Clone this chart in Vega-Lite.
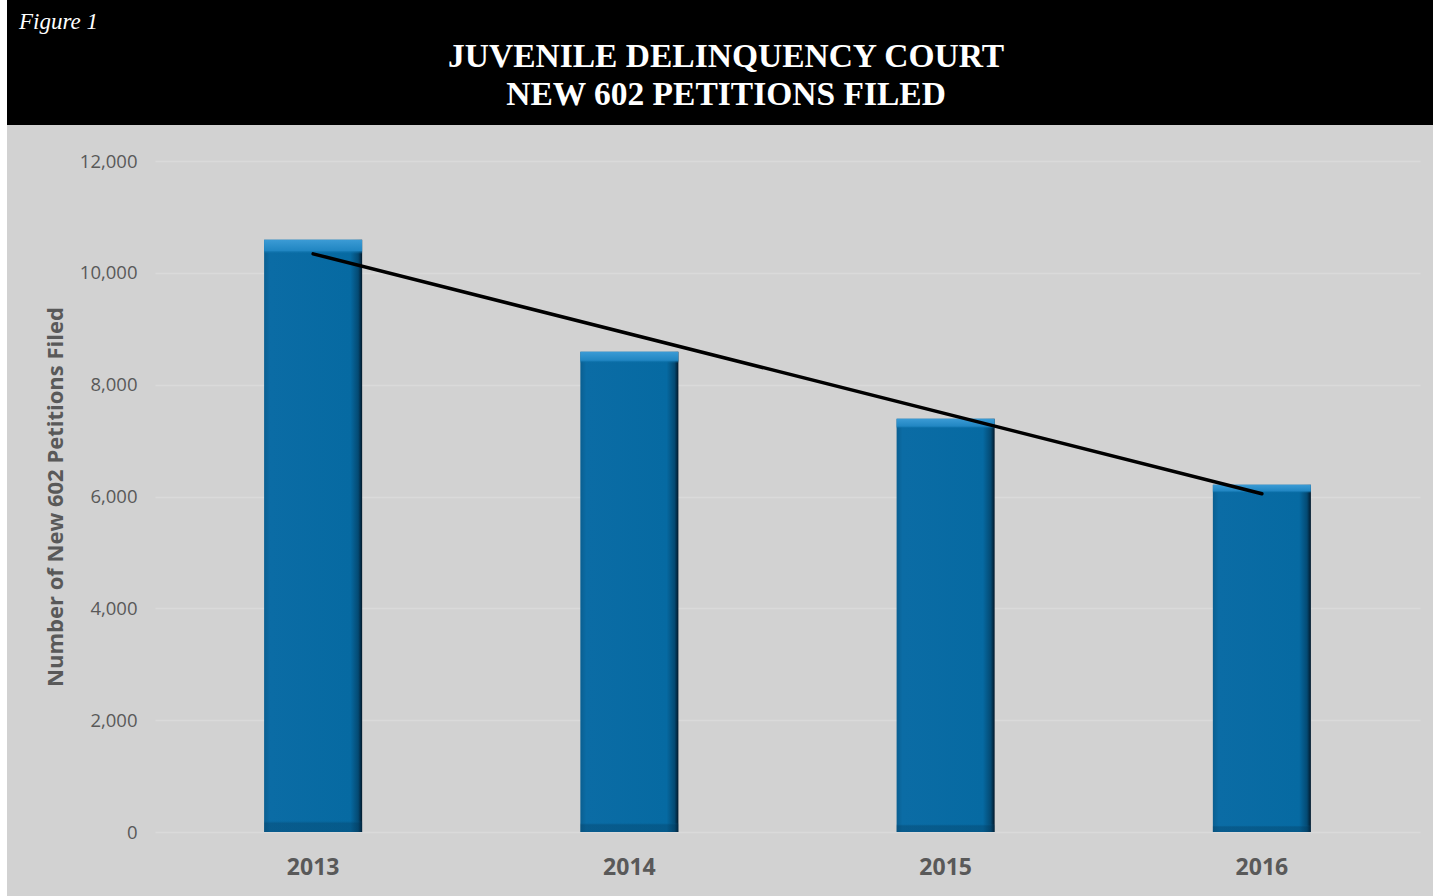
{
  "$schema": "https://vega.github.io/schema/vega-lite/v6.json",
  "background": "white",
  "padding": {"left": 7, "top": 0, "right": 0, "bottom": 0},
  "spacing": 0,
  "datasets": {
    "counts": [
      {"year": "2013", "petitions": 10590},
      {"year": "2014", "petitions": 8590},
      {"year": "2015", "petitions": 7390},
      {"year": "2016", "petitions": 6210}
    ],
    "trend": [
      {"year": "2013", "trend": 10340},
      {"year": "2016", "trend": 6050}
    ],
    "header": [
      {"title": "JUVENILE DELINQUENCY COURT\nNEW 602 PETITIONS FILED"}
    ]
  },
  "vconcat": [
    {
      "width": 1426,
      "height": 125,
      "view": {"fill": "black", "stroke": null},
      "title": {
        "text": "Figure 1",
        "anchor": "start",
        "frame": "group",
        "orient": "top",
        "offset": -52,
        "baseline": "alphabetic",
        "dx": 12,
        "font": "Liberation Serif",
        "fontStyle": "italic",
        "fontWeight": "normal",
        "fontSize": 23,
        "color": "white"
      },
      "data": {"name": "header"},
      "mark": {
        "type": "text",
        "lineBreak": "\n",
        "font": "Liberation Serif",
        "fontWeight": "bold",
        "fontSize": 33.5,
        "color": "white",
        "align": "center",
        "baseline": "alphabetic",
        "lineHeight": 38,
        "dy": 4,
        "dx": 6
      },
      "encoding": {"text": {"field": "title", "type": "nominal"}}
    },
    {
      "width": 1426,
      "height": 771,
      "view": {"fill": "#d2d2d2", "stroke": null},
      "layer": [
        {
          "data": {"name": "counts"},
          "mark": {
            "type": "bar",
            "fill": {
              "gradient": "linear",
              "x1": 0, "y1": 0, "x2": 1, "y2": 0,
              "stops": [
                {"offset": 0, "color": "#0a5f91"},
                {"offset": 0.06, "color": "#0b6ca5"},
                {"offset": 0.88, "color": "#066aa2"},
                {"offset": 0.96, "color": "#044a73"},
                {"offset": 1, "color": "#02182a"}
              ]
            }
          },
          "encoding": {
            "x": {
              "field": "year",
              "type": "ordinal",
              "scale": {"range": [148, 1413], "paddingInner": 0.69, "paddingOuter": 0.345},
              "axis": {
                "title": null,
                "offset": -64,
                "labelPadding": 24,
                "ticks": false,
                "domain": false,
                "grid": false,
                "labelAngle": 0,
                "labelFont": "Open Sans",
                "labelFontWeight": "bold",
                "labelFontSize": 23,
                "labelColor": "#595959"
              }
            },
            "y": {
              "field": "petitions",
              "type": "quantitative",
              "scale": {"domain": [0, 12000], "range": [707, 36], "nice": false},
              "axis": {
                "title": "Number of New 602 Petitions Filed",
                "values": [0, 2000, 4000, 6000, 8000, 10000, 12000],
                "format": ",d",
                "offset": -130,
                "labelPadding": 0,
                "ticks": false,
                "tickSize": 0,
                "domain": false,
                "grid": true,
                "gridColor": "#dadada",
                "gridWidth": 1.5,
                "labelFont": "Open Sans",
                "labelFontSize": 18.5,
                "labelColor": "#595959",
                "titleFont": "Open Sans",
                "titleFontWeight": "bold",
                "titleFontSize": 22,
                "titleColor": "#595959",
                "titleX": -82,
                "titleBaseline": "middle",
                "titleAngle": -90
              }
            }
          }
        },
        {
          "data": {"name": "counts"},
          "mark": {
            "type": "bar",
            "fill": {
              "gradient": "linear",
              "x1": 0, "y1": 0, "x2": 0, "y2": 1,
              "stops": [
                {"offset": 0, "color": "#3b9bd5"},
                {"offset": 0.018, "color": "#2186c2"},
                {"offset": 0.024, "color": "rgba(6,106,162,0)"},
                {"offset": 0.98, "color": "rgba(6,106,162,0)"},
                {"offset": 0.985, "color": "rgba(3,60,95,0.35)"},
                {"offset": 1, "color": "rgba(3,60,95,0.35)"}
              ]
            }
          },
          "encoding": {
            "x": {"field": "year", "type": "ordinal"},
            "y": {"field": "petitions", "type": "quantitative"}
          }
        },
        {
          "data": {"name": "trend"},
          "mark": {"type": "line", "color": "black", "strokeWidth": 3.5, "strokeCap": "round"},
          "encoding": {
            "x": {"field": "year", "type": "ordinal"},
            "y": {"field": "trend", "type": "quantitative"}
          }
        }
      ]
    }
  ]
}
